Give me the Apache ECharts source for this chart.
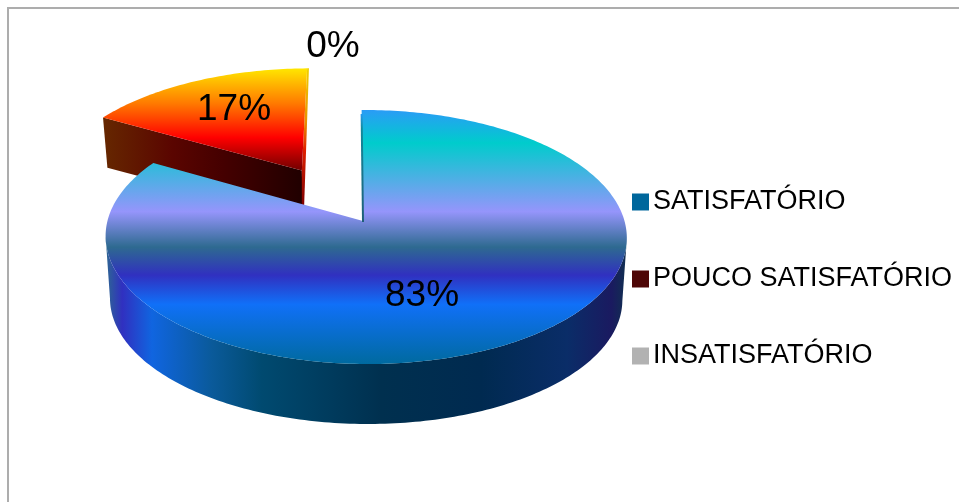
<!DOCTYPE html>
<html>
<head>
<meta charset="utf-8">
<style>html,body{margin:0;padding:0;background:#fff}#c{width:959px;height:502px}</style>
<script src="https://cdn.jsdelivr.net/npm/echarts@6/dist/echarts.min.js"></script>
</head>
<body>
<div id="c"></div>
<script>
var categories = ['SATISFATÓRIO', 'POUCO SATISFATÓRIO', 'INSATISFATÓRIO'];
var values = [83.3, 16.7, 0];
var legendColors = ['#00679c', '#4e0606', '#b2b2b2'];

// Layout and perspective of the pie
var FONT = '"Liberation Sans", Arial, sans-serif';
var view = {cx: 363, cy: 221, a: 258.5, b: 125, k: 0.126, j: -0.0115, m: -0.006, shrink: 0.983};
var sliceStyle = [
  {explode: 0, nudge: 0, radius: 1, depth: 62.4, labelX: 422, labelY: 296, edgeW: 2},
  {explode: 0.494, nudge: 0, radius: 1.02, depth: 48.5, labelX: 234, labelY: 110, edgeW: 1.8},
  {explode: 0, nudge: 0, radius: 1, depth: 0, labelX: 333, labelY: 47}
];
function vStops(list){return list.map(function(s){return {offset:s[0],color:s[1]};});}
var mainTop = [110, 364, vStops([[0,'#2a9cf6'],[0.13,'#00cccc'],[0.40,'#9595fb'],[0.54,'#2e6a90'],[0.65,'#3030c0'],[0.765,'#1070f8'],[1,'#006a9f']])];
var mainSide = [105, 627, vStops([[0,'#2e6a90'],[0.033,'#3030c0'],[0.09,'#1065e0'],[0.205,'#0a5a9a'],[0.30,'#004a70'],[0.53,'#00304f'],[0.72,'#002a50'],[0.885,'#0a2d68'],[0.97,'#1a1a60'],[1,'#103050']])];
var redTop = [68, 172, vStops([[0,'#ffe800'],[0.17,'#ffb000'],[0.34,'#ff7a00'],[0.67,'#ff0000'],[1,'#6b0000']])];
var redSide = [102, 303, vStops([[0,'#662800'],[0.35,'#5a0500'],[0.6,'#450000'],[1,'#200000']])];
var redEdge = [68, 204, vStops([[0,'#f0d000'],[0.4,'#e89000'],[0.6,'#e02000'],[1,'#800000']])];
var mainEdge = [112, 222, vStops([[0,'#2a9cf6'],[0.15,'#128a9c'],[1,'#1f5f78']])];

var total = values.reduce(function(s,v){return s+v;},0);

function project(X, Y){
  var d = 1 + view.k*Y + view.j*X;
  return {x: view.cx + view.a*(X + view.m*Y)/d, y: view.cy - view.b*Y/d};
}
function lower(p, depth){
  return {x: view.cx + (p.x-view.cx)*view.shrink, y: view.cy + (p.y-view.cy)*view.shrink + depth};
}
function pts(list){return list.map(function(p){return [p.x,p.y];});}
function grad(isV, g){
  return isV ? new echarts.graphic.LinearGradient(0,g[0],0,g[1],g[2],true)
             : new echarts.graphic.LinearGradient(g[0],0,g[1],0,g[2],true);
}
function poly(points, fill, z){
  return {type:'polygon', silent:true, z2:z, shape:{points:pts(points)}, style:{fill:fill, stroke:null}};
}

function renderSlice(index){
  return function(){
    var st = sliceStyle[index];
    var before = 0;
    for (var i=0;i<index;i++) before += values[i];
    var a0 = before/total*360, a1 = (before+values[index])/total*360;
    var kids = [];
    if (values[index] > 0){
      var mid = (a0+a1)/2*Math.PI/180;
      var ox = st.explode*Math.sin(mid) + st.nudge, oy = st.explode*Math.cos(mid);
      var arc = [];
      for (var t=a0; t<a1; t+=1){
        var r=t*Math.PI/180;
        arc.push(project(ox+st.radius*Math.sin(r), oy+st.radius*Math.cos(r)));
      }
      var re=a1*Math.PI/180;
      arc.push(project(ox+st.radius*Math.sin(re), oy+st.radius*Math.cos(re)));
      var apex = project(ox, oy);
      var apexLow = lower(apex, st.depth);
      if (index === 0){
        // outer wall: from the rightmost point of the rim round the front to the leftmost point
        var iR=0, iL=0;
        arc.forEach(function(p,n){ if(p.x>arc[iR].x) iR=n; if(p.x<arc[iL].x) iL=n; });
        var front = arc.slice(iR, iL+1);
        var low = front.map(function(p){return lower(p, st.depth);}).reverse();
        kids.push(poly(front.concat(low), grad(false, mainSide), 1));
        kids.push(poly(arc.concat([apex]), grad(true, mainTop), 2));
        var top = arc[0];
        kids.push(poly([{x:top.x-1,y:top.y+4},{x:top.x+1,y:top.y+4},{x:apex.x+1,y:apex.y+1},{x:apex.x-st.edgeW+1,y:apex.y+1}], grad(true, mainEdge), 3));
      } else {
        var first = arc[0], last = arc[arc.length-1];
        var firstLow = lower(first, st.depth);
        kids.push(poly([first, apex, apexLow, firstLow], grad(false, redSide), 1));
        kids.push(poly([last,{x:last.x+st.edgeW,y:last.y},{x:apex.x+st.edgeW,y:apexLow.y},{x:apex.x,y:apexLow.y},apex], grad(true, redEdge), 1));
        kids.push(poly(arc.concat([apex]), grad(true, redTop), 2));
      }
    }
    kids.push({type:'text', silent:true, z2:10, style:{
      x: st.labelX, y: st.labelY,
      text: Math.round(values[index]/total*100)+'%',
      fill:'#000', font:'37px '+FONT, align:'center', verticalAlign:'middle'
    }});
    return {type:'group', children:kids};
  };
}

var series = categories.map(function(name,i){
  return {
    type:'custom', name:name, coordinateSystem:'none', silent:true, animation:false,
    z: 3-i,
    itemStyle:{color:legendColors[i]},
    renderItem: renderSlice(i),
    data:[[values[i]]]
  };
});

var chart = echarts.init(document.getElementById('c'), null, {renderer:'canvas'});
chart.setOption({
  animation:false,
  backgroundColor:'#fff',
  legend:{
    orient:'vertical', left:632, top:186, padding:0, icon:'rect',
    itemWidth:17, itemHeight:17, itemGap:45,
    selectedMode:false, data:categories,
    textStyle:{color:'#000', fontSize:27, fontFamily:FONT, padding:[0,0,2,-1], lineHeight:30}
  },
  graphic:[
    {type:'rect', silent:true, shape:{x:7,y:7,width:952,height:2}, style:{fill:'#adadad'}},
    {type:'rect', silent:true, shape:{x:7,y:7,width:2,height:495}, style:{fill:'#adadad'}}
  ],
  series:series
});
</script>
</body>
</html>
